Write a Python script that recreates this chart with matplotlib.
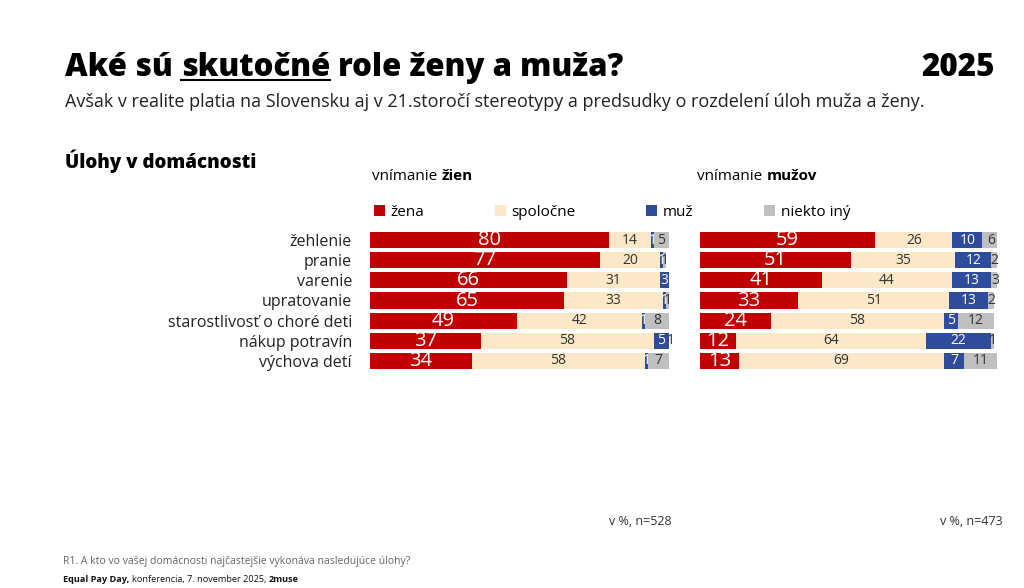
import matplotlib
matplotlib.use("Agg")
import matplotlib.pyplot as plt
from matplotlib.patches import Patch
from matplotlib.lines import Line2D
import numpy as np

plt.rcParams['font.family'] = ['Open Sans', 'DejaVu Sans']

# data (v %)
tasks = ["žehlenie", "pranie", "varenie", "upratovanie",
         "starostlivosť o choré deti", "nákup potravín", "výchova detí"]
series = ["žena", "spoločne", "muž", "niekto iný"]

women_zena = [80, 77, 66, 65, 49, 37, 34]
women_spolu = [14, 20, 31, 33, 42, 58, 58]
women_muz = [1, 1, 3, 1, 1, 5, 1]
women_iny = [5, 1, 0, 1, 8, 1, 7]

men_zena = [59, 51, 41, 33, 24, 12, 13]
men_spolu = [26, 35, 44, 51, 58, 64, 69]
men_muz = [10, 12, 13, 13, 5, 22, 7]
men_iny = [6, 2, 3, 2, 12, 1, 11]

colors = ["#C00000", "#FCE8C6", "#2E4B9C", "#BFBFBF"]
label_colors = ["white", "#333333", "white", "#333333"]
label_sizes = [14.5, 10, 10, 10]

W, H = 1024, 588
fig = plt.figure(figsize=(W / 100, H / 100), dpi=100)
renderer = fig.canvas.get_renderer()


def px(x, y):
    return x / W, 1 - y / H


def pieces(x, y, parts, size, color="black", va="baseline"):
    # draw a row of text pieces with different weights, return extents
    ext = []
    for txt, weight in parts:
        t = fig.text(*px(x, y), txt, fontsize=size, fontweight=weight,
                     color=color, va=va, ha="left")
        bb = t.get_window_extent(renderer)
        ext.append(bb)
        x += bb.width
    return ext


def stacked(ax, values):
    left = np.zeros(len(tasks))
    for i, vals in enumerate(values):
        vals = np.array(vals)
        ax.barh(tasks, vals, left=left, height=0.8, color=colors[i], edgecolor="none")
        for j, v in enumerate(vals):
            if v <= 0:
                continue
            ax.text(left[j] + v / 2, j, str(v), ha="center", va="center",
                    fontsize=label_sizes[i], color=label_colors[i], clip_on=False)
        left += vals
    ax.set_xlim(0, 100)
    ax.set_ylim(len(tasks) - 0.5, -0.5)
    ax.set_xticks([])
    for s in ax.spines.values():
        s.set_visible(False)
    ax.tick_params(axis="y", length=0, labelsize=11.5, pad=13, labelcolor="#222222")


axl = fig.add_axes([370 / W, 1 - 371 / H, 299 / W, 141 / H])
stacked(axl, [women_zena, women_spolu, women_muz, women_iny])
axr = fig.add_axes([700 / W, 1 - 371 / H, 297 / W, 141 / H])
stacked(axr, [men_zena, men_spolu, men_muz, men_iny])
axr.set_yticks([])

# title with underlined word
ext = pieces(65, 76, [("Aké sú ", "extra bold"), ("skutočné", "extra bold"),
                      (" role ženy a muža?", "extra bold")], 22.5)
bb = ext[1]
fig.add_artist(Line2D([bb.x0 / W, bb.x1 / W], [1 - 80 / H] * 2, color="black", lw=1.5))
fig.text(*px(995, 76), "2025", fontsize=22.5, fontweight="extra bold", ha="right", va="baseline")
fig.text(*px(65, 107), "Avšak v realite platia na Slovensku aj v 21.storočí stereotypy a predsudky "
         "o rozdelení úloh muža a ženy.", fontsize=13, va="baseline", color="#222222")

fig.text(*px(65, 168), "Úlohy v domácnosti", fontsize=13.5, fontweight="extra bold", va="baseline")
pieces(372, 180, [("vnímanie ", "normal"), ("žien", "bold")], 11)
pieces(697, 180, [("vnímanie ", "normal"), ("mužov", "bold")], 11)

handles = [Patch(facecolor=c, edgecolor="none", label=s) for c, s in zip(colors, series)]
fig.legend(handles=handles, loc="center left", bbox_to_anchor=(374 / W, 1 - 212 / H),
           ncol=4, frameon=False, fontsize=11, handlelength=0.7, handleheight=0.7,
           handletextpad=0.4, columnspacing=4.6, borderaxespad=0, borderpad=0)

fig.text(*px(672, 525), "v %, n=528", fontsize=9, ha="right", va="baseline", color="#333333")
fig.text(*px(1003, 525), "v %, n=473", fontsize=9, ha="right", va="baseline", color="#333333")

fig.text(*px(63, 564), "R1. A kto vo vašej domácnosti najčastejšie vykonáva nasledujúce úlohy?",
         fontsize=7.5, color="#666666", va="baseline")
pieces(63, 582, [("Equal Pay Day, ", "bold"), ("konferencia, 7. november 2025, ", "normal"),
                 ("2muse", "bold")], 6.6, color="#111111")

fig.savefig("out.png", dpi=100)
